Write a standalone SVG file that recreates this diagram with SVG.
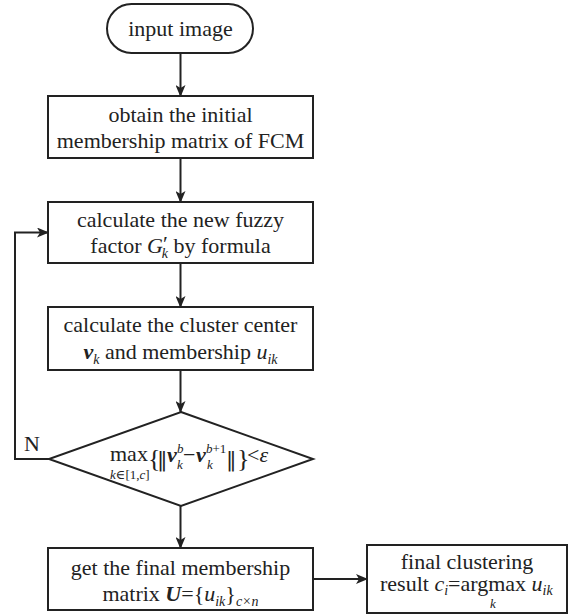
<svg xmlns="http://www.w3.org/2000/svg" width="570" height="615" viewBox="0 0 570 615">
<defs>
<marker id="ah" markerWidth="12" markerHeight="10" refX="11" refY="5" orient="auto" markerUnits="userSpaceOnUse"><path d="M0,0 L12,5 L0,10 L3,5 Z" fill="#222"/></marker>
</defs>
<style>
.n{fill:#fff;stroke:#222;stroke-width:2}
text{font-family:"Liberation Serif","DejaVu Serif","Times New Roman",serif;font-size:22px;fill:#222}
.t{text-anchor:middle}
.l{text-anchor:start}
.e{stroke:#222;stroke-width:2;fill:none;marker-end:url(#ah)}
.i{font-style:italic}
.b{font-weight:bold;font-style:italic}
.s{font-size:14px;font-style:italic}
.m{font-size:13px}
.nb{font-family:"DejaVu Serif","DejaVu Sans",serif;font-size:21px}
</style>
<rect width="570" height="615" fill="#fff"/>

<g id="connectors">
<path class="e" d="M180.5,53 V96"/>
<path class="e" d="M180.5,158 V202"/>
<path class="e" d="M180.5,263 V307"/>
<path class="e" d="M180.5,370 V412"/>
<path class="e" d="M180.5,506 V548"/>
<path class="e" d="M313,579 H367"/>
<path class="e" d="M49,459 H15 V232.5 H48"/>
<text class="l" x="24" y="451">N</text>
</g>

<g id="start">
<rect class="n" x="107" y="4" width="146" height="49" rx="24.5"/>
<text class="t" x="180.5" y="36">input image</text>
</g>

<g id="init">
<rect class="n" x="48" y="96" width="265" height="62"/>
<text class="t"><tspan x="180.5" y="122">obtain the initial</tspan><tspan x="180.5" y="148">membership matrix of FCM</tspan></text>
</g>

<g id="fuzzy">
<rect class="n" x="48" y="202" width="265" height="61"/>
<text class="t"><tspan x="180.5" y="227">calculate the new fuzzy</tspan><tspan x="180.5" y="253">factor <tspan class="i">G</tspan><tspan dy="-2">′</tspan><tspan class="s" dx="-6" dy="7">k</tspan><tspan dy="-5"> by formula</tspan></tspan></text>
</g>

<g id="center">
<rect class="n" x="48" y="307" width="265" height="63"/>
<text class="t"><tspan x="180.5" y="332">calculate the  cluster center</tspan><tspan x="180.5" y="359"><tspan class="b">v</tspan><tspan class="s" dy="5">k</tspan><tspan dy="-5"> and membership </tspan><tspan class="i">u</tspan><tspan class="s" dy="5">ik</tspan></tspan></text>
</g>

<g id="decision">
<polygon class="n" points="181,412 313,459 181,506 49,459"/>
<text class="l"><tspan x="110" y="461">max</tspan><tspan class="m" x="110" y="479"><tspan class="i">k</tspan>∈[1,<tspan class="i">c</tspan>]</tspan><tspan x="148" y="467" style="font-size:26px">{</tspan><tspan class="nb" x="157" y="466">‖</tspan><tspan class="b" x="167" y="462">v</tspan><tspan class="m i" x="177" y="453">b</tspan><tspan class="m i" x="177" y="469">k</tspan><tspan x="183" y="462">−</tspan><tspan class="b" x="196" y="462">v</tspan><tspan class="m" x="206" y="453"><tspan class="i">b</tspan>+1</tspan><tspan class="m i" x="207" y="469">k</tspan><tspan class="nb" x="226" y="466">‖</tspan><tspan x="237" y="467" style="font-size:26px">}</tspan><tspan x="247" y="462">&lt;<tspan class="i">ε</tspan></tspan></text>
</g>

<g id="final">
<rect class="n" x="48" y="548" width="265" height="62"/>
<text class="t"><tspan x="180.5" y="575">get the final membership</tspan><tspan x="180.5" y="601">matrix <tspan class="b">U</tspan>={<tspan class="i">u</tspan><tspan class="s" dy="5">ik</tspan><tspan dy="-5">}</tspan><tspan class="s" dy="5">c×n</tspan></tspan></text>
</g>

<g id="result">
<rect class="n" x="367" y="545" width="200" height="68"/>
<text class="t"><tspan x="467" y="569">final clustering</tspan></text>
<text class="l"><tspan x="380" y="591">result <tspan class="i">c</tspan><tspan class="s" dy="4">i</tspan><tspan dy="-4">=argmax </tspan><tspan class="i">u</tspan><tspan class="s" dy="4">ik</tspan></tspan><tspan class="m i" x="490" y="608">k</tspan></text>
</g>
</svg>
